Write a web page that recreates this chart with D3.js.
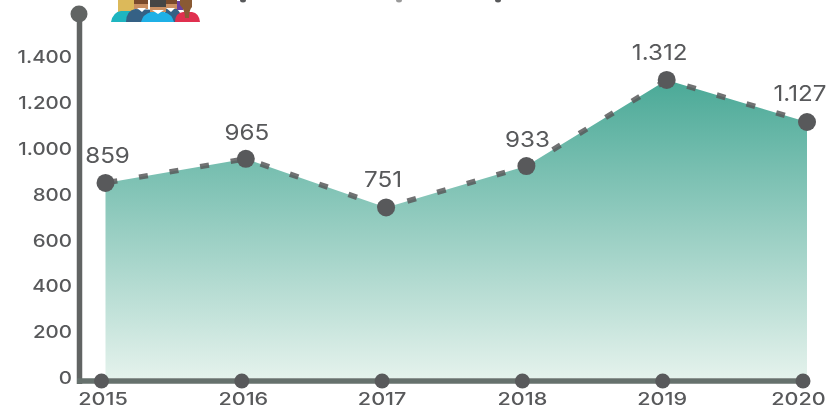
<!DOCTYPE html>
<html><head><meta charset="utf-8">
<script src="https://cdn.jsdelivr.net/npm/d3@7"></script>
<style>html,body{margin:0;padding:0;background:#fff}svg{display:block;filter:blur(0.5px)}text{font-family:Inter,"Open Sans",sans-serif;font-weight:500}.vl{font-weight:400}</style>
</head><body><div id="c"></div>
<script>
const years = ["2015","2016","2017","2018","2019","2020"];
const values = [859,965,751,933,1312,1127];
const valueLabels = ["859","965","751","933","1.312","1.127"];
const yTicks = [0,200,400,600,800,1000,1200,1400];
const yTickLabels = ["0","200","400","600","800","1.000","1.200","1.400"];

const W=827,H=411,ink="#58595b",axisInk="#616463";
const svg=d3.select("#c").append("svg").attr("width",W).attr("height",H);
const idx=d3.range(years.length);
const xAxisScale=d3.scaleLinear().domain([0,5]).range([101.5,803]);
const xData=d3.scaleLinear().domain([0,5]).range([105.5,807]);
const y=d3.scaleLinear().domain([0,1400]).range([378,60]);
const yAxisScale=d3.scaleLinear().domain([0,1400]).range([378,57]);

const defs=svg.append("defs");
const g=defs.append("linearGradient").attr("id","ga").attr("x1",0).attr("y1",0).attr("x2",0).attr("y2",1);
g.append("stop").attr("offset","0%").attr("stop-color","#4aa997");
g.append("stop").attr("offset","100%").attr("stop-color","#e4f2ec");

const area=d3.area().x(i=>xData(i)).y0(378).y1(i=>y(values[i]));
svg.append("path").attr("d",area(idx)).attr("fill","url(#ga)");
const line=d3.line().x(i=>xData(i)).y(i=>y(values[i]));
svg.append("path").attr("d",line(idx)).attr("fill","none").attr("stroke",ink).attr("stroke-opacity",.85)
  .attr("stroke-width",5.5).attr("stroke-dasharray","9 22").attr("stroke-dashoffset",-3);

// axes
svg.append("line").attr("x1",79.5).attr("x2",79.5).attr("y1",14).attr("y2",384).attr("stroke",axisInk).attr("stroke-width",5.5);
svg.append("line").attr("x1",77).attr("x2",808).attr("y1",381).attr("y2",381).attr("stroke","#66716d").attr("stroke-width",5.5);
svg.append("circle").attr("cx",79).attr("cy",14).attr("r",8.5).attr("fill",axisInk);
svg.selectAll(".xd").data(idx).join("circle").attr("cx",i=>xAxisScale(i)).attr("cy",381).attr("r",7.5).attr("fill",ink);

const yearDX=[1.5,1.5,0,0,-0.5,-4.5];
svg.selectAll(".xl").data(idx).join("text").attr("class","xl")
  .attr("transform",i=>`translate(${xAxisScale(i)+yearDX[i]},405) scale(1.27,1)`)
  .attr("text-anchor","middle").attr("font-size",17).attr("fill",ink).text(i=>years[i]);
svg.selectAll(".yl").data(yTicks).join("text").attr("class","yl")
  .attr("transform",d=>`translate(72,${yAxisScale(d)+6.2}) scale(1.17,1)`)
  .attr("text-anchor","end").attr("font-size",17.5).attr("fill",ink).text((d,i)=>yTickLabels[i]);

// points
svg.selectAll(".pt").data(idx).join("circle").attr("class","pt").attr("cx",i=>xData(i)).attr("cy",i=>y(values[i])).attr("r",9).attr("fill",ink);
const labelDX=[2,1,-3,1,-7,-7], labelDY=[-20,-19,-20,-19,-20,-21];
svg.selectAll(".vl").data(idx).join("text").attr("class","vl")
  .attr("transform",i=>`translate(${xData(i)+labelDX[i]},${y(values[i])+labelDY[i]}) scale(1.1,1)`)
  .attr("text-anchor","middle").attr("font-size",22).attr("fill",ink).text(i=>valueLabels[i]);

// people icon
const shapes=[
 ["#dcb95a","M118 0h16v13h-16z"],
 ["#1eb5c0","M111 22q2-10 10-11h9v11z"],
 ["#c98f63","M134 0h14v9h-14z"],
 ["#7a4a2c","M134 0h14v4h-14z"],
 ["#356185","M126 22q0-11 9-13l22 1v12z"],
 ["#fff","M137 8h9l-4 4z"],
 ["#6a3fa0","M175 1h8v9h-8z"],
 ["#c98f63","M164 0h13v9h-13z"],
 ["#7a4a2c","M164 0h13v4h-13z"],
 ["#356185","M165 22v-13h11q5 2 7 13z"],
 ["#fff","M166 8h9l-4 4z"],
 ["#c98f63","M150 0h16v12h-16z"],
 ["#454545","M150 0h16v7h-16z"],
 ["#1fb0e6","M141 22q2-8 10-10h13q8 2 10 10z"],
 ["#fff","M152 10h12l-6 4z"],
 ["#e0304f","M175 22q0-9 8-10h9q7 1 8 10z"],
 ["#8a5a34","M180 0h12v7q-3 3-3 11h-4q0-8-5-13z"]
];
svg.append("g").selectAll("path").data(shapes).join("path").attr("fill",d=>d[0]).attr("d",d=>d[1]);
// clipped title descenders at the top edge
const titleTails=[[243,"#58595b"],[399,"#9a9a9a"],[498,"#58595b"]];
svg.append("g").selectAll("ellipse").data(titleTails).join("ellipse")
  .attr("cx",d=>d[0]).attr("cy",0).attr("rx",3).attr("ry",2.5).attr("fill",d=>d[1]);
</script></body></html>
